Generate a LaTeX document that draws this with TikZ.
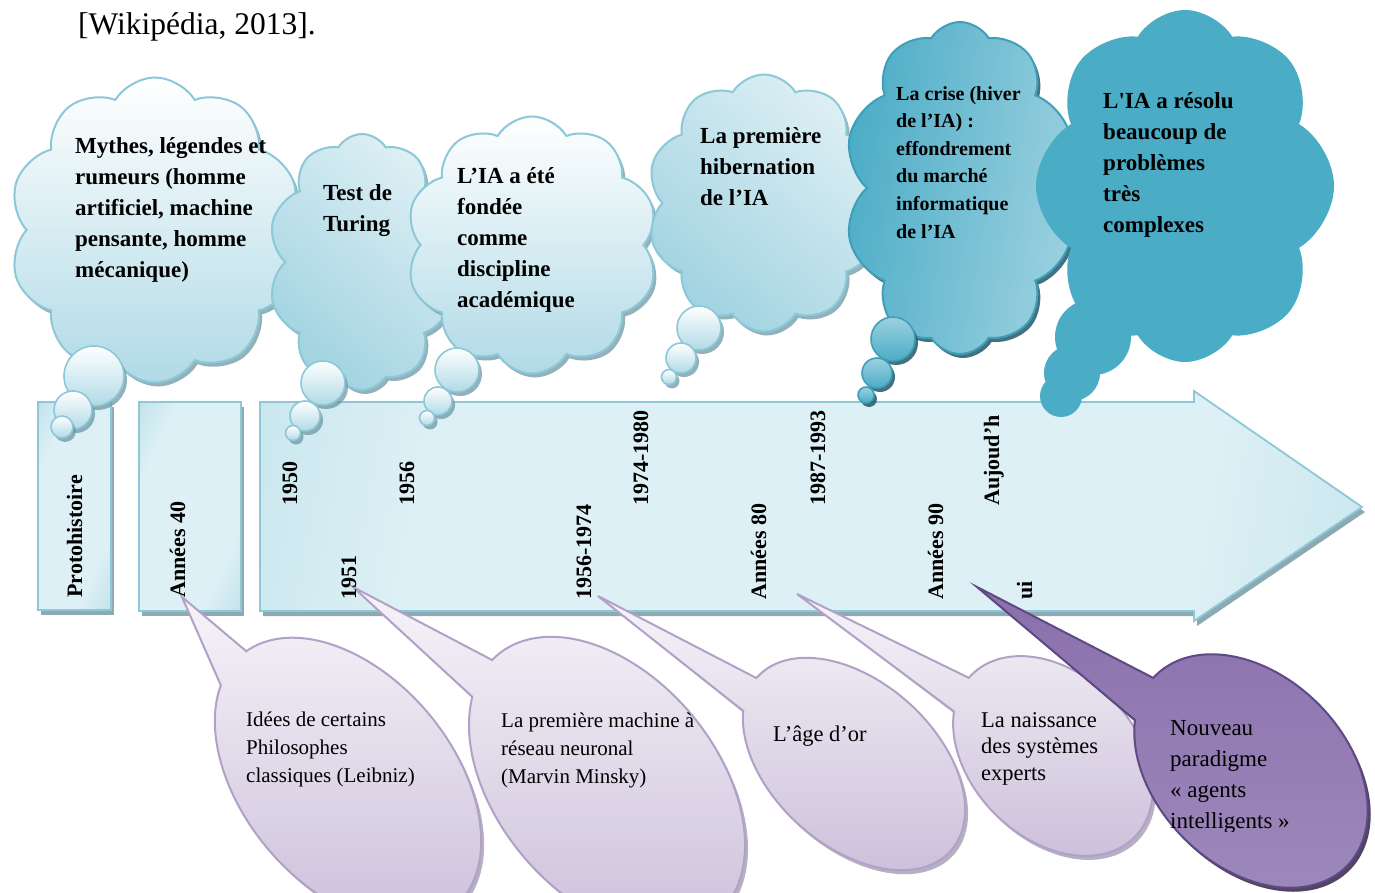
\documentclass[tikz,border=0pt]{standalone}
\usepackage{fontspec}
\setmainfont{Liberation Serif}
\usetikzlibrary{shapes.symbols,shadows}

% palette
\definecolor{skyline}{HTML}{8CC8D8}
\definecolor{skylight}{HTML}{DDEFF4}
\definecolor{skymid}{HTML}{B0DAE6}
\definecolor{skydark}{HTML}{4BACC6}
\definecolor{skydeep}{HTML}{3F9FB9}
\definecolor{skypale}{HTML}{9CD1E0}
\definecolor{skyshadow}{HTML}{6F98A3}
\definecolor{navyshadow}{HTML}{23596A}
\definecolor{bardark}{HTML}{9FD2E0}
\definecolor{barlight}{HTML}{DDF0F5}
\definecolor{barshadow}{HTML}{7A9BA5}
\definecolor{lavlight}{HTML}{F6F4F9}
\definecolor{lavmid}{HTML}{CABED9}
\definecolor{lavline}{HTML}{B2A1C7}
\definecolor{lavshade}{HTML}{A69CB3}
\definecolor{violetmid}{HTML}{7A5E9E}
\definecolor{violettop}{HTML}{8A70AC}
\definecolor{violetlow}{HTML}{9E89BB}
\definecolor{violetline}{HTML}{5F4884}
\definecolor{violetshade}{HTML}{3F3151}

% light band in the middle of the time line, darker towards both ends
\pgfdeclarehorizontalshading{barshading}{100bp}{color(0bp)=(bardark); color(30bp)=(barlight);
  color(70bp)=(barlight); color(100bp)=(bardark)}

% a callout: ellipse (centre #2,#3, turned by #4, semi-axes #5,#6)
% opened between parameter angles #7 and #8, with its point at #9
\newcommand\speechpath[9]{%
  \begin{scope}[shift={(#2,#3)}, rotate=#4]
    \path[#1] (#9) -- (#7:#5 and #6)
      arc[start angle=#7, end angle=#8-360, x radius=#5, y radius=#6] -- cycle;
  \end{scope}}
\newcommand\speechbubble[9]{%
  \speechpath{#1 shadow}{#2+3}{#3+4}{#4}{#5}{#6}{#7}{#8}{#9}%
  \speechpath{#1}{#2}{#3}{#4}{#5}{#6}{#7}{#8}{#9}}

\tikzset{
  cloudbase/.style={cloud, cloud ignores aspect, cloud puffs=10, cloud puff arc=118,
    inner sep=0pt, line width=2pt},
  paleshadow/.style={drop shadow={shadow xshift=3pt, shadow yshift=-4pt, fill=skyshadow, opacity=0.75}},
  darkshadow/.style={drop shadow={shadow xshift=3pt, shadow yshift=-4pt, fill=navyshadow, opacity=0.85}},
  palecloud/.style={cloudbase, draw=skyline, top color=white, bottom color=skymid, paleshadow},
  slantcloud/.style={cloudbase, draw=skyline, top color=skylight, bottom color=skymid!85!skydark,
    shading angle=-40, paleshadow},
  stormcloud/.style={cloudbase, draw=skydeep, top color=skypale, bottom color=skydark,
    shading angle=-100, darkshadow},
  solidcloud/.style={cloudbase, fill=skydark, draw=none},
  puff/.style={circle, inner sep=0pt, draw=skyline, line width=1.6pt,
    top color=white, bottom color=skymid, paleshadow},
  stormpuff/.style={circle, inner sep=0pt, draw=skydeep, line width=1.6pt,
    top color=skypale, bottom color=skydark, darkshadow},
  solidpuff/.style={circle, inner sep=0pt, fill=skydark},
  barfill/.style={draw=skyline, line width=1.8pt, shading=barshading, shading angle=#1,
    drop shadow={shadow xshift=3pt, shadow yshift=-5pt, fill=barshadow, opacity=0.85}},
  barfill/.default=-10,
  cloudtext/.style={anchor=north west, align=left, inner sep=0pt,
    font=\fontsize{23}{31}\selectfont\bfseries},
  smallcloudtext/.style={anchor=north west, align=left, inner sep=0pt,
    font=\fontsize{20}{27.6}\selectfont\bfseries},
  yearlabel/.style={rotate=90, anchor=base west, inner sep=0pt,
    font=\fontsize{22}{22}\selectfont\bfseries},
  bubbletext/.style={anchor=north west, align=left, inner sep=0pt},
  lav/.style={draw=lavline, line width=2pt, top color=lavlight, bottom color=lavmid},
  lav shadow/.style={fill=lavshade, opacity=0.8},
  violet/.style={draw=violetline, line width=2pt, top color=violettop,
    middle color=violetmid, bottom color=violetlow},
  violet shadow/.style={fill=violetshade, opacity=0.9},
}

\begin{document}
\begin{tikzpicture}[x=1pt, y=-1pt]
\useasboundingbox (0,0) rectangle (1375,893);
\clip (0,0) rectangle (1375,893);
\fill[white] (0,0) rectangle (1375,893);

% reference line above the figure
\node[anchor=base west, inner sep=0pt, font=\fontsize{31.5}{31.5}\selectfont] (cite) at (78,35) {[Wikipédia, 2013].};

% ---------- time line ----------
\node[barfill=-25, minimum width=73pt, minimum height=208pt] (boxProto) at (74.5,506) {};
\node[barfill=-25, minimum width=102pt, minimum height=209pt] (boxForties) at (190,506.5) {};
\path[barfill] (260,402) -- (1194,402) -- (1194,391) -- (1362,507)
  -- (1194,621) -- (1194,611) -- (260,611) -- cycle;

% ---------- thought clouds ----------
\node[palecloud, minimum width=292pt, minimum height=305pt] (cloudMyth) at (155,230) {};
\node[puff, minimum size=60pt] (mythA) at (94,376) {};
\node[puff, minimum size=38pt] (mythB) at (73,410) {};
\node[puff, minimum size=22pt] (mythC) at (62,427) {};

\node[slantcloud, minimum width=188pt, minimum height=256pt] (cloudTuring) at (362,262) {};
\node[puff, minimum size=44pt] (turingA) at (323,383) {};
\node[puff, minimum size=30pt] (turingB) at (305,416) {};
\node[puff, minimum size=15pt] (turingC) at (293,433) {};

\node[palecloud, minimum width=252pt, minimum height=257pt] (cloudFounded) at (532,245) {};
\node[puff, minimum size=44pt] (foundedA) at (457,370) {};
\node[puff, minimum size=28pt] (foundedB) at (438,401) {};
\node[puff, minimum size=15pt] (foundedC) at (427,418) {};

\node[slantcloud, minimum width=234pt, minimum height=257pt] (cloudWinter) at (764,203) {};
\node[puff, minimum size=44pt] (winterA) at (699,328) {};
\node[puff, minimum size=30pt] (winterB) at (681,358) {};
\node[puff, minimum size=15pt] (winterC) at (669,377) {};

\node[stormcloud, minimum width=232pt, minimum height=332pt] (cloudCrisis) at (960,188) {};
\node[stormpuff, minimum size=44pt] (crisisA) at (893,339) {};
\node[stormpuff, minimum size=30pt] (crisisB) at (877,373) {};
\node[stormpuff, minimum size=16pt] (crisisC) at (866,395) {};

\node[solidcloud, cloud puffs=8, minimum width=298pt, minimum height=352pt] (cloudToday) at (1185,186) {};
\node[solidpuff, minimum size=76pt] (todayA) at (1093,337) {};
\node[solidpuff, minimum size=56pt] (todayB) at (1072,373) {};
\node[solidpuff, minimum size=42pt] (todayC) at (1061,396) {};

% cloud texts
\node[cloudtext] (txtMyth) at (75,130) {\rule{0pt}{23pt}Mythes, légendes et\\rumeurs (homme\\artificiel, machine\\pensante, homme\\mécanique)};
\node[cloudtext] (txtTuring) at (323,177) {\rule{0pt}{23pt}Test de\\Turing};
\node[cloudtext] (txtFounded) at (457,160) {\rule{0pt}{23pt}L'IA a été\\fondée\\comme\\discipline\\académique};
\node[cloudtext] (txtWinter) at (700,120) {\rule{0pt}{23pt}La première\\hibernation\\de l'IA};
\node[smallcloudtext] (txtCrisis) at (896,80) {\rule{0pt}{20pt}La crise (hiver\\de l'IA) :\\effondrement\\du marché\\informatique\\de l'IA};
\node[cloudtext] (txtToday) at (1103,85) {\rule{0pt}{23pt}L\textquotesingle IA a résolu\\beaucoup de\\problèmes\\très\\complexes};

% ---------- callouts below the line ----------
\coordinate (tipForties) at (182,597);
\coordinate (tipPerceptron) at (353,587);
\coordinate (tipGolden) at (598,596);
\coordinate (tipExperts) at (797,594);
\coordinate (tipAgents) at (977,587);

\speechbubble{lav}{348}{781}{-50}{165}{105}{160}{183}{tipForties}
\speechbubble{lav}{607}{785}{-50}{170}{110}{155}{176}{tipPerceptron}
\speechbubble{lav}{854}{764}{-42}{130}{82}{155}{179}{tipGolden}
\speechbubble{lav}{1053}{756}{-45}{115}{82}{152}{177}{tipExperts}
\speechbubble{violet}{1251}{771}{-45}{135}{95}{151}{178}{tipAgents}

\node[bubbletext, font=\fontsize{21}{28}\selectfont] (txtLeibniz) at (246,705)
  {\rule{0pt}{21pt}Idées de certains\\Philosophes\\classiques (Leibniz)};
\node[bubbletext, font=\fontsize{21}{28}\selectfont] (txtMinsky) at (501,706)
  {\rule{0pt}{21pt}La première machine à\\réseau neuronal\\(Marvin Minsky)};
\node[bubbletext, font=\fontsize{22.5}{27}\selectfont] (txtGolden) at (773,718.5)
  {\rule{0pt}{22.5pt}L'âge d'or};
\node[bubbletext, font=\fontsize{22.5}{26.5}\selectfont] (txtExperts) at (981,704.5)
  {\rule{0pt}{22.5pt}La naissance\\des systèmes\\experts};
\begin{scope}
  \clip (1100,600) rectangle (1375,831);
  \node[bubbletext, font=\fontsize{23}{31}\selectfont] (txtAgents) at (1170,712)
    {\rule{0pt}{23pt}Nouveau\\paradigme\\« agents\\intelligents »};
\end{scope}

% ---------- labels on the time line ----------
\node[yearlabel] (lblProto) at (82,598) {Protohistoire};
\node[yearlabel] (lblForties) at (185,598) {Années 40};
\node[yearlabel] (lbl1950) at (297,506) {1950};
\node[yearlabel] (lbl1956) at (414,506) {1956};
\node[yearlabel] (lbl1974) at (648,506) {1974-1980};
\node[yearlabel] (lbl1987) at (825,506) {1987-1993};
\node[yearlabel] (lblToday) at (999,506) {Aujoud'h};
\node[yearlabel] (lbl1951) at (356,600) {1951};
\node[yearlabel] (lbl1956b) at (591,600) {1956-1974};
\node[yearlabel] (lblEighties) at (766,600) {Années 80};
\node[yearlabel] (lblNineties) at (943,600) {Années 90};
\node[yearlabel] (lblTodayEnd) at (1032,600) {ui};
\end{tikzpicture}
\end{document}
